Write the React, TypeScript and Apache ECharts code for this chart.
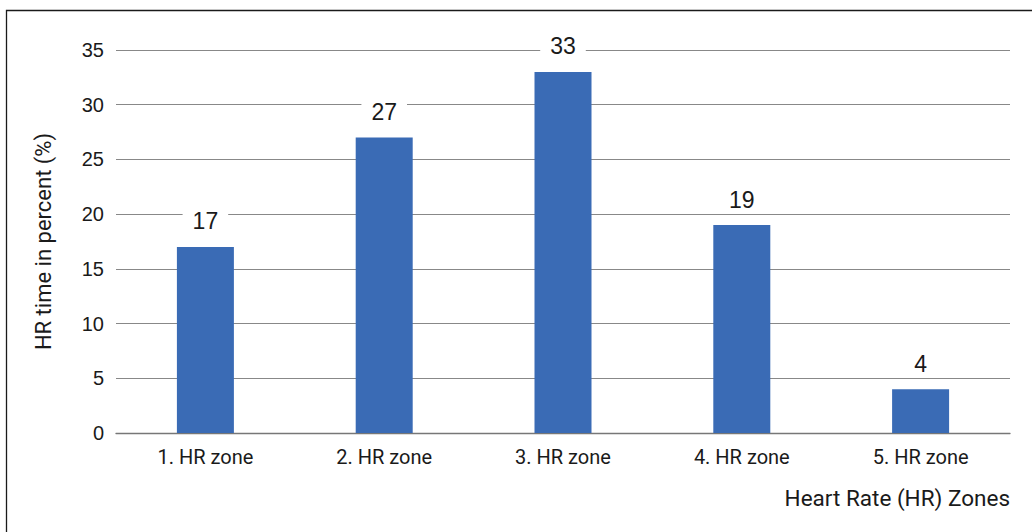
import React, { useEffect, useRef } from "react";
import * as echarts from "echarts";

const categories = ["1. HR zone", "2. HR zone", "3. HR zone", "4. HR zone", "5. HR zone"];
const values = [17, 27, 33, 19, 4];
const yTicks = { min: 0, max: 35, interval: 5 };
const yName = "HR time in percent (%)";
const xName = "Heart Rate (HR) Zones";

export default function App() {
  const ref = useRef<HTMLDivElement>(null);
  useEffect(() => {
    if (!ref.current) return;
    const chart = echarts.init(ref.current, null, { renderer: "svg" });
    chart.setOption({
      animation: false,
      backgroundColor: "#ffffff",
      graphic: [
        {
          type: "rect",
          shape: { x: 6.5, y: 10.5, width: 1100, height: 600 },
          style: { fill: "none", stroke: "#1a1a1a", lineWidth: 1.3 },
          silent: true,
        },
      ],
      grid: { left: 116, right: 22, top: 50, bottom: 99, containLabel: false },
      xAxis: {
        type: "category",
        data: categories,
        axisTick: { show: false },
        axisLine: { show: true, lineStyle: { color: "#777", width: 1.3 } },
        axisLabel: {
          color: "#1a1a1a",
          fontSize: 20,
          fontFamily: "Roboto",
          margin: 14,
        },
        name: xName,
        nameLocation: "end",
        nameGap: 0,
        nameTextStyle: {
          color: "#1a1a1a",
          fontSize: 22.5,
          fontFamily: "Roboto",
          align: "right",
          verticalAlign: "top",
          padding: [53, 0, 0, 0],
        },
      },
      yAxis: {
        type: "value",
        min: yTicks.min,
        max: yTicks.max,
        interval: yTicks.interval,
        axisLine: { show: false },
        axisTick: { show: false },
        splitLine: { show: true, lineStyle: { color: "#888", width: 1.2 } },
        axisLabel: {
          color: "#1a1a1a",
          fontSize: 20,
          fontFamily: "Liberation Sans",
          margin: 12,
        },
        name: yName,
        nameLocation: "middle",
        nameGap: 62,
        nameRotate: 90,
        nameTextStyle: {
          color: "#1a1a1a",
          fontSize: 22,
          fontFamily: "Roboto",
        },
      },
      series: [
        {
          type: "bar",
          data: values,
          barWidth: 57,
          itemStyle: { color: "#3a6bb5" },
          label: {
            show: true,
            position: "top",
            distance: 12,
            color: "#1a1a1a",
            fontSize: 23,
            fontFamily: "Liberation Sans",
            backgroundColor: "#ffffff",
            padding: [2, 10, 2, 10],
          },
        },
      ],
    });
    return () => chart.dispose();
  }, []);
  return (
    <div
      ref={ref}
      style={{ position: "fixed", left: 0, top: 0, width: 1032, height: 532 }}
    />
  );
}
